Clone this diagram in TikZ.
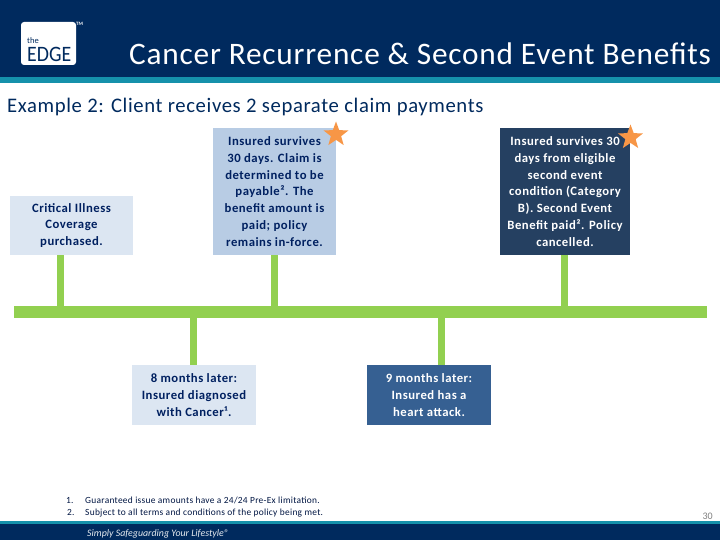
\documentclass[tikz,border=0pt]{standalone}
\usepackage{fontspec}
\setmainfont{Carlito}
\newfontfamily\spaced{Carlito}[LetterSpace=3]
\newfontfamily\titlefont{Carlito}[LetterSpace=2.5]
\newfontfamily\boxfont{Carlito}[LetterSpace=4,BoldFont=Carlito Bold]
\usetikzlibrary{shapes.geometric}
\definecolor{navy}{HTML}{002A5E}
\definecolor{teal1}{HTML}{1591AB}
\definecolor{paleblue}{HTML}{DCE6F2}
\definecolor{midblue}{HTML}{B8CCE4}
\definecolor{darkblue}{HTML}{254061}
\definecolor{steelblue}{HTML}{366092}
\definecolor{leaf}{HTML}{92D050}
\definecolor{starc}{HTML}{F79646}
\definecolor{ink}{HTML}{002060}
\tikzset{
  evbox/.style={inner sep=0pt,align=center,font=\boxfont\bfseries\fontsize{12.7}{16.8}\selectfont},
  lightbox/.style={evbox,text=ink},
  darkbox/.style={evbox,text=white},
  stem/.style={draw=leaf,line width=7pt},
  starmark/.style={star,star points=5,star point ratio=2.4,fill=starc,inner sep=0pt,minimum size=26pt},
  foot/.style={inner sep=0pt,anchor=base west,text=ink!70!black,font=\spaced\fontsize{9.4}{11}\selectfont}
}
\begin{document}
\begin{tikzpicture}[x=1pt,y=-1pt]
\useasboundingbox (0,0) rectangle (720,540);
\fill[white] (0,0) rectangle (720,540);
% header
\fill[navy] (0,0) rectangle (720,77);
\fill[teal1] (0,77) rectangle (720,83);
% logo
\fill[white,rounded corners=3pt] (21,22) rectangle (76,65);
\node[inner sep=0pt,anchor=base west,text=navy,font=\fontsize{8.5}{8}\selectfont] (logothe) at (27,44) {the};
\node[inner sep=0pt,anchor=base west,text=navy,xscale=0.9,font=\fontsize{22}{22}\selectfont] (logoedge) at (27,62) {EDGE};
\node[inner sep=0pt,anchor=base west,text=white,font=\bfseries\fontsize{5}{5}\selectfont] (logotm) at (76,26) {TM};
% title
\node[inner sep=0pt,anchor=base west,text=white,font=\titlefont\fontsize{31.3}{31}\selectfont] (title) at (129,65) {Cancer Recurrence \& Second Event Benefits};
\node[inner sep=0pt,anchor=base west,text=navy,font=\spaced\fontsize{20.7}{21}\selectfont] (sub) at (7,113) {Example 2: Client receives 2 separate claim payments};
% footer
\fill[teal1] (0,521) rectangle (720,524);
\fill[navy] (0,524) rectangle (720,540);
\node[inner sep=0pt,anchor=base west,text=white!90!navy,font=\itshape\fontsize{9.9}{12}\selectfont] (slogan) at (87,536) {Simply Safeguarding Your Lifestyle®};
\node[inner sep=0pt,anchor=base east,text=gray,font=\fontsize{10}{10}\selectfont] (page) at (713,519) {30};
% footnotes
\node[foot] (n1) at (66,503) {1.};
\node[foot] (t1) at (85,503) {Guaranteed issue amounts have a 24/24 Pre-Ex limitation.};
\node[foot] (n2) at (67,515) {2.};
\node[foot] (t2) at (85,515) {Subject to all terms and conditions of the policy being met.};
% timeline
\node[fill=leaf,inner sep=0pt,minimum width=693pt,minimum height=12pt] (bar) at (360.5,312) {};
\coordinate (sa) at (60.5,312);
\coordinate (sb) at (274.5,312);
\coordinate (sc) at (564.5,312);
\coordinate (sd) at (193.5,312);
\coordinate (se) at (441.5,312);
% boxes
\node[lightbox,fill=paleblue,minimum width=123pt,minimum height=59pt] (a) at (71.5,225.5) {Critical Illness\\Coverage\\purchased.};
\node[lightbox,fill=midblue,minimum width=123pt,minimum height=127pt] (b) at (274.5,191.5) {Insured survives\\30 days. Claim is\\determined to be\\payable². The\\benefit amount is\\paid; policy\\remains in-force.};
\node[darkbox,fill=darkblue,minimum width=130pt,minimum height=127pt] (c) at (565,191.5) {Insured survives 30\\days from eligible\\second event\\condition (Category\\B). Second Event\\Benefit paid². Policy\\cancelled.};
\node[lightbox,fill=paleblue,minimum width=124pt,minimum height=60pt] (d) at (194,395) {8 months later:\\Insured diagnosed\\with Cancer¹.};
\node[darkbox,fill=steelblue,minimum width=124pt,minimum height=60pt] (e) at (429,395) {9 months later:\\Insured has a\\heart attack.};
% stems
\draw[stem] (sa |- a.south) -- (sa);
\draw[stem] (sb |- b.south) -- (sb);
\draw[stem] (sc |- c.south) -- (sc);
\draw[stem] (sd |- d.north) -- (sd);
\draw[stem] (se |- e.north) -- (se);
% stars
\node[starmark] (sb1) at (336,134.5) {};
\node[starmark] (sc1) at (630.5,137.5) {};
\end{tikzpicture}
\end{document}
